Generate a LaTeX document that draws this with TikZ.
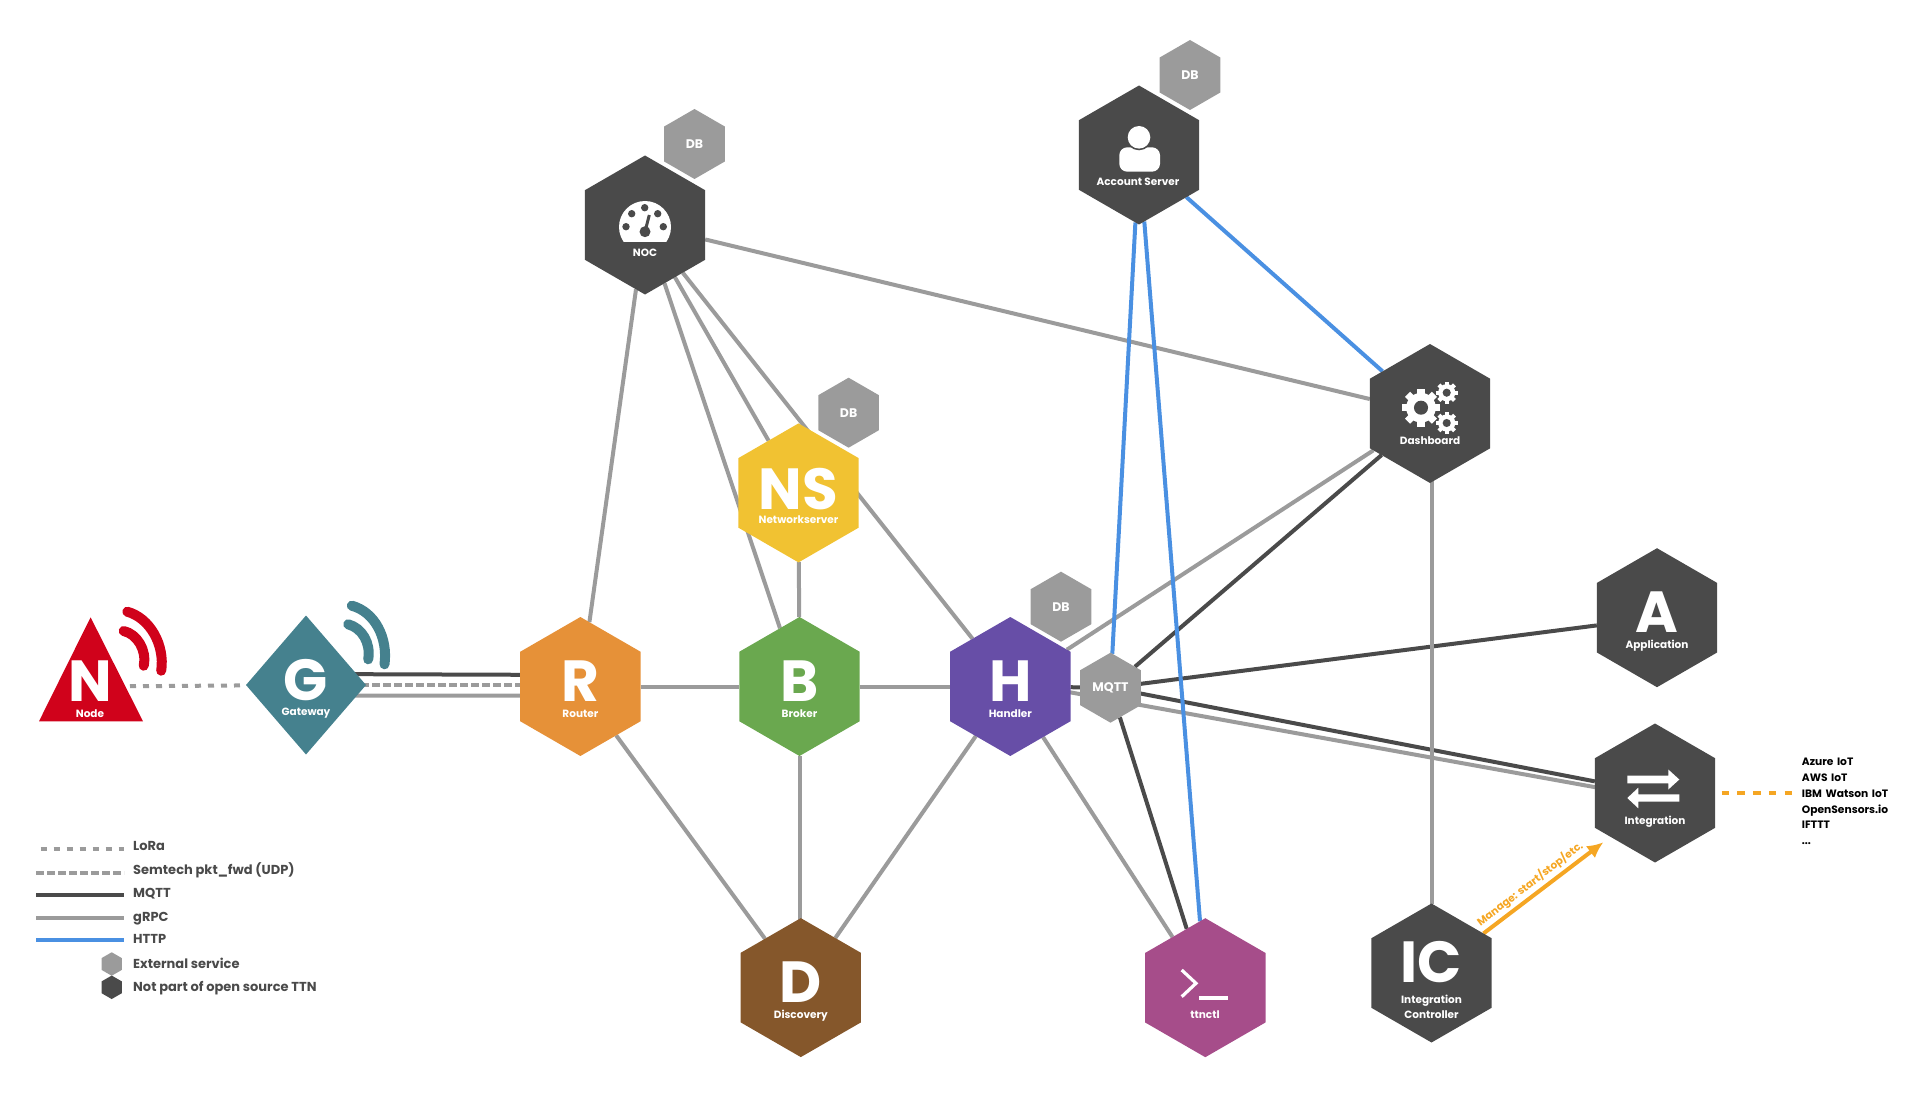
\documentclass[tikz,border=0pt]{standalone}
\usepackage{fontspec}
\setmainfont{Poppins}
\usetikzlibrary{shapes.geometric,backgrounds,arrows.meta}
\definecolor{nodered}{HTML}{D0021B}
\definecolor{gatewayteal}{HTML}{45818E}
\definecolor{routerorange}{HTML}{E69138}
\definecolor{brokergreen}{HTML}{6AA84F}
\definecolor{nsyellow}{HTML}{F1C232}
\definecolor{handlerpurple}{HTML}{674EA7}
\definecolor{discoverybrown}{HTML}{85572B}
\definecolor{ttnctlpink}{HTML}{A64D8A}
\definecolor{darkhex}{HTML}{4A4A4A}
\definecolor{grayhex}{HTML}{9B9B9B}
\definecolor{httpblue}{HTML}{4A90E2}
\definecolor{manageorange}{HTML}{F5A623}
\tikzset{
	bighex/.style={regular polygon,regular polygon sides=6,shape border rotate=30,minimum size=139pt,inner sep=0pt,outer sep=0pt,fill=#1},
	smallhex/.style={regular polygon,regular polygon sides=6,shape border rotate=30,minimum size=70pt,inner sep=0pt,outer sep=0pt,fill=grayhex,text=white,font=\bfseries\fontsize{12.5}{12.5}\selectfont},
	keyhex/.style={regular polygon,regular polygon sides=6,shape border rotate=30,minimum size=23.5pt,inner sep=0pt,outer sep=0pt,fill=#1},
	letter/.style={text=white,inner sep=0pt,font=\bfseries\fontsize{58}{58}\selectfont},
	sublabel/.style={text=white,inner sep=0pt,text height=6pt,text depth=0pt,font=\bfseries\fontsize{10.5}{10.5}\selectfont},
	keylabel/.style={anchor=west,text=darkhex,inner sep=0pt,text height=7.5pt,text depth=0pt,font=\bfseries\fontsize{13}{13}\selectfont},
	grpcline/.style={draw=grayhex,line width=4pt},
	mqttline/.style={draw=darkhex,line width=4pt},
	httpline/.style={draw=httpblue,line width=4pt},
	loraline/.style={draw=grayhex,line width=4pt,dash pattern=on 6pt off 7pt},
	udpline/.style={draw=grayhex,line width=4pt,dash pattern=on 8pt off 3pt},
	waves/.style={line width=10pt,line cap=round}
}
\newcommand{\gearicon}[3]{
	\foreach \a in {0,45,...,315}
		\fill[white,shift={(#1,#2)},rotate=\a] ({-0.19*#3},0) rectangle ({0.19*#3},#3);
	\fill[white] (#1,#2) circle ({0.78*#3});
	\fill[darkhex] (#1,#2) circle ({0.37*#3});
}
\begin{document}
\begin{tikzpicture}[x=1pt,y=-1pt]
	\useasboundingbox (0,0) rectangle (1920,1094);

	\coordinate (nodetri) at (91,686.5);
	\fill[nodered] (90.6,617.3) -- (143,721.3) -- (39,721.3) -- cycle;
	\draw[waves,nodered] (127.3,611.7) .. controls (150,618) and (165,645) .. (161.2,670.7);
	\draw[waves,nodered] (123.7,631) .. controls (137,634) and (147,650) .. (143.7,665.7);
	\node[letter] (nodeL) at (90.6,681.3) {N};
	\node[sublabel] (nodeT) at (90,714) {Node};

	\node[diamond,minimum width=120pt,minimum height=139pt,inner sep=0pt,outer sep=0pt,fill=gatewayteal] (gateway) at (306,685) {};
	\draw[waves,gatewayteal] (351.8,605.7) .. controls (375,612) and (388,638) .. (384.5,664.3);
	\draw[waves,gatewayteal] (348.2,624.3) .. controls (362,628) and (371,643) .. (368.2,659.3);
	\node[letter] (gatewayL) at (306,680) {G};
	\node[sublabel] (gatewayT) at (306,712.7) {Gateway};

	\node[bighex=routerorange] (router) at (580.4,686.5) {};
	\node[letter] (routerL) at (580.4,681.3) {R};
	\node[sublabel] (routerT) at (580.4,714) {Router};

	\node[bighex=brokergreen] (broker) at (799.5,686.5) {};
	\node[letter] (brokerL) at (799.5,681.3) {B};
	\node[sublabel] (brokerT) at (799.5,714) {Broker};

	\node[bighex=nsyellow] (ns) at (798.5,492.9) {};
	\node[letter] (nsL) at (798.5,488.6) {NS};
	\node[sublabel] (nsT) at (798.5,520.4) {Networkserver};
	\node[smallhex] (nsdb) at (848.6,412.7) {DB};

	\node[bighex=handlerpurple] (handler) at (1010.3,686.5) {};
	\node[letter] (handlerL) at (1010.3,681.3) {H};
	\node[sublabel] (handlerT) at (1010.3,714) {Handler};
	\node[smallhex] (handlerdb) at (1061,606.7) {DB};
	\node[smallhex] (mqtt) at (1110.5,687.7) {MQTT};

	\node[bighex=discoverybrown] (discovery) at (800.8,987.6) {};
	\node[letter] (discoveryL) at (800.8,982) {D};
	\node[sublabel] (discoveryT) at (800.8,1015) {Discovery};

	\node[bighex=ttnctlpink] (ttnctl) at (1205.3,987.7) {};
	\draw[white,line width=3.2pt] (1181.7,970) -- (1196,983.3) -- (1181.7,996.7);
	\draw[white,line width=3.2pt] (1199.3,998) -- (1228.3,998);
	\node[sublabel] (ttnctlT) at (1205,1015.7) {ttnctl};

	\node[bighex=darkhex] (noc) at (645,225) {};
	\begin{scope}
		\clip (610,195) rectangle (680,241.7);
		\fill[white] (645,227) circle (26);
	\end{scope}
	\foreach \x/\y in {626/226.7,631.7/213.7,644.7/207.7,657.7/213.7,663.3/226.7}
		\fill[darkhex] (\x,\y) circle (3.7);
	\draw[darkhex,line width=3pt] (645,231.7) -- (649.3,215);
	\fill[darkhex] (645,231.7) circle (5.5);
	\node[sublabel] (nocT) at (645,253.3) {NOC};
	\node[smallhex] (nocdb) at (694.5,144) {DB};

	\node[bighex=darkhex] (account) at (1139,155) {};
	\fill[white,rounded corners=8pt] (1119.3,147.3) rectangle (1160,171.7);
	\fill[darkhex] (1139,137.3) circle (13);
	\fill[white] (1139,137.3) circle (11.3);
	\node[sublabel] (accountT) at (1138,182.7) {Account Server};
	\node[smallhex] (accountdb) at (1190,75) {DB};

	\node[bighex=darkhex] (dashboard) at (1430,413.5) {};
	\gearicon{1421}{407.7}{19}
	\gearicon{1446.7}{392.7}{11}
	\gearicon{1446.7}{423}{11}
	\node[sublabel] (dashboardT) at (1430,441) {Dashboard};

	\node[bighex=darkhex] (application) at (1657,617.7) {};
	\node[letter] (applicationL) at (1657,612.5) {A};
	\node[sublabel] (applicationT) at (1657,645.7) {Application};

	\node[bighex=darkhex] (integration) at (1655,793) {};
	\fill[white] (1627.3,775.7) -- (1668.3,775.7) -- (1668.3,769.5) -- (1679.3,779.5) -- (1668.3,789.5) -- (1668.3,783.3) -- (1627.3,783.3) -- cycle;
	\fill[white] (1679.3,794.3) -- (1638.3,794.3) -- (1638.3,787.7) -- (1627.3,798) -- (1638.3,808.3) -- (1638.3,801.7) -- (1679.3,801.7) -- cycle;
	\node[sublabel] (integrationT) at (1655,821) {Integration};

	\node[bighex=darkhex] (ic) at (1431.5,973) {};
	\node[letter] (icL) at (1431.5,962.5) {IC};
	\node[sublabel] (icT) at (1431.5,1000.4) {Integration};
	\node[sublabel] (icT2) at (1431.5,1015) {Controller};

	\node[anchor=west,inner sep=0pt,text width=100pt,font=\bfseries\fontsize{10.7}{15.7}\selectfont] (targets) at (1801.7,801.5) {Azure IoT\\AWS IoT\\IBM Watson IoT\\OpenSensors.io\\IFTTT\\...};
	\coordinate (targetsEnd) at (1792.3,793);
	\coordinate (integrationEnd) at (1721.7,793);
	\coordinate (manageTip) at (1603.3,842.3);
	\node[text=manageorange,rotate=37.4,inner sep=0pt,font=\bfseries\fontsize{10.5}{10.5}\selectfont] (manageT) at (1530,884) {Manage: start/stop/etc.};

	\begin{pgfonlayer}{background}
		\draw[mqttline] (handler) -- (mqtt);
		\draw[mqttline] (mqtt) -- (dashboard);
		\draw[mqttline] (mqtt) -- (application);
		\draw[mqttline] (mqtt) -- (integration);
		\draw[mqttline] (mqtt) -- (ttnctl);
		\draw[mqttline] ([yshift=11pt]gateway.center) -- ([yshift=11.5pt]router.center);
		\draw[grpcline] ([yshift=-10.5pt]gateway.center) -- ([yshift=-9.2pt]router.center);
		\draw[udpline] ([yshift=-0.3pt]gateway.center) -- ([yshift=1.2pt]router.center);
		\draw[loraline] (nodetri) -- (gateway);
		\draw[grpcline] (router) -- (broker);
		\draw[grpcline] (broker) -- (handler);
		\draw[grpcline] (router) -- (discovery);
		\draw[grpcline] (broker) -- (broker |- discovery);
		\draw[grpcline] (handler) -- (discovery);
		\draw[grpcline] (router) -- (noc);
		\draw[grpcline] (broker) -- (noc);
		\draw[grpcline] (ns) -- (noc);
		\draw[grpcline] (handler) -- (noc);
		\draw[grpcline] (broker) -- (ns);
		\draw[grpcline] (noc) -- (dashboard);
		\draw[grpcline] (handler) -- (dashboard);
		\draw[grpcline] (ic |- dashboard) -- (ic);
		\draw[grpcline] (handler) -- (ttnctl);
		\draw[grpcline] ([yshift=5pt]handler.center) -- ([yshift=-5pt]integration.center);
		\draw[httpline] (account) -- (dashboard);
		\draw[httpline] (account) -- (mqtt);
		\draw[httpline] (account) -- (ttnctl);
		\draw[draw=manageorange,line width=4pt,-{Latex[length=16pt,width=15pt]}] (ic) -- (manageTip);
		\draw[draw=manageorange,line width=4pt,dash pattern=on 7.5pt off 8.2pt] (integrationEnd) -- (targetsEnd);
	\end{pgfonlayer}

	\coordinate (key1a) at (40.7,849.3);
	\coordinate (key1b) at (124,849.3);
	\draw[loraline] (key1a) -- (key1b);
	\node[keylabel] (key1) at (133,847) {LoRa};
	\coordinate (key2a) at (36,872.7);
	\coordinate (key2b) at (124,872.7);
	\draw[udpline] (key2a) -- (key2b);
	\node[keylabel] (key2) at (133,871) {Semtech pkt\_fwd (UDP)};
	\coordinate (key3a) at (36,895);
	\coordinate (key3b) at (124,895);
	\draw[mqttline] (key3a) -- (key3b);
	\node[keylabel] (key3) at (133,894) {MQTT};
	\coordinate (key4a) at (36,918.3);
	\coordinate (key4b) at (124,918.3);
	\draw[grpcline] (key4a) -- (key4b);
	\node[keylabel] (key4) at (133,917.7) {gRPC};
	\coordinate (key5a) at (36,940.3);
	\coordinate (key5b) at (124,940.3);
	\draw[httpline] (key5a) -- (key5b);
	\node[keylabel] (key5) at (133,940) {HTTP};
	\node[keyhex=grayhex] (key6hex) at (111.7,964) {};
	\node[keylabel] (key6) at (133,964.3) {External service};
	\node[keyhex=darkhex] (key7hex) at (111.7,987.3) {};
	\node[keylabel] (key7) at (133,987.5) {Not part of open source TTN};
\end{tikzpicture}
\end{document}
